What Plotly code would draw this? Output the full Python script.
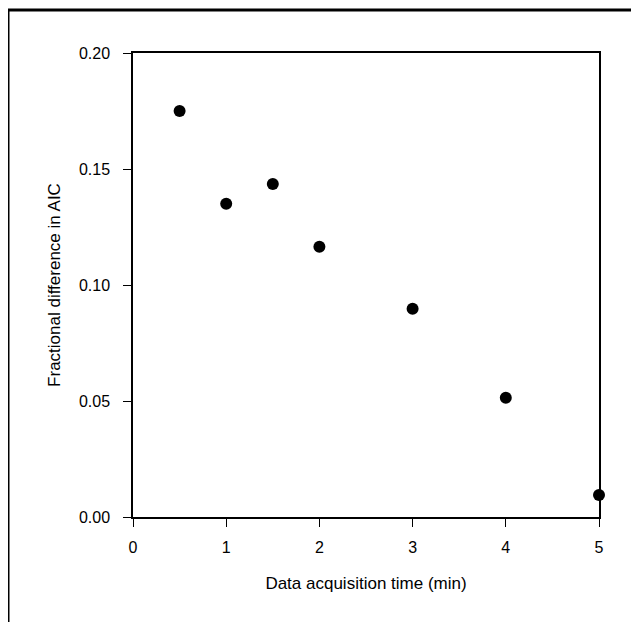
import plotly.graph_objects as go

time_min = [0.5, 1, 1.5, 2, 3, 4, 5]
frac_diff_aic = [0.175, 0.135, 0.1435, 0.1165, 0.0898, 0.0514, 0.0095]
x_ticks = [0, 1, 2, 3, 4, 5]
y_ticks = [0.00, 0.05, 0.10, 0.15, 0.20]
y_tick_labels = ["0.00", "0.05", "0.10", "0.15", "0.20"]

fig = go.Figure()
fig.add_trace(go.Scatter(
    x=time_min, y=frac_diff_aic, mode="markers",
    marker=dict(size=12, color="black"),
    showlegend=False, cliponaxis=False,
))

# page body has an 8px margin; work in reference pixel coords and shift
OFF = 8
W, H = 639 - OFF, 622 - OFF
L, R, T, B = 133 - OFF, 40, 53 - OFF, 105
pw, ph = W - L - R, H - T - B

def px_x(p):
    return (p - OFF - L) / pw

def px_y(p):
    return (H - B - (p - OFF)) / ph

font = dict(family="Liberation Sans, Arial, sans-serif", color="black")

fig.update_layout(
    width=W, height=H,
    margin=dict(l=L, r=R, t=T, b=B),
    paper_bgcolor="white", plot_bgcolor="white",
    font=font,
    xaxis=dict(
        range=[0, 5], tickvals=x_ticks, ticktext=[str(v) for v in x_ticks],
        showline=True, linecolor="black", linewidth=1.5, mirror=True,
        ticks="outside", ticklen=8, tickwidth=1.2, tickcolor="black",
        showgrid=False, zeroline=False, ticklabelstandoff=7,
        tickfont=dict(size=16, **font),
        title=dict(text="Data acquisition time (min)", font=dict(size=17, **font), standoff=22),
    ),
    yaxis=dict(
        range=[0, 0.2], tickvals=y_ticks, ticktext=y_tick_labels,
        showline=True, linecolor="black", linewidth=1.5, mirror=True,
        ticks="outside", ticklen=8, tickwidth=1.2, tickcolor="black",
        showgrid=False, zeroline=False, ticklabelstandoff=10,
        tickfont=dict(size=16, **font),
        title=dict(text="Fractional difference in AIC", font=dict(size=17, **font), standoff=14),
    ),
    shapes=[
        dict(type="line", xref="paper", yref="paper",
             x0=px_x(8), x1=px_x(635), y0=px_y(10), y1=px_y(10),
             line=dict(color="black", width=3)),
        dict(type="line", xref="paper", yref="paper",
             x0=px_x(8), x1=px_x(8), y0=px_y(10), y1=px_y(630),
             line=dict(color="black", width=3)),
    ],
)

fig.write_html("out.html")
